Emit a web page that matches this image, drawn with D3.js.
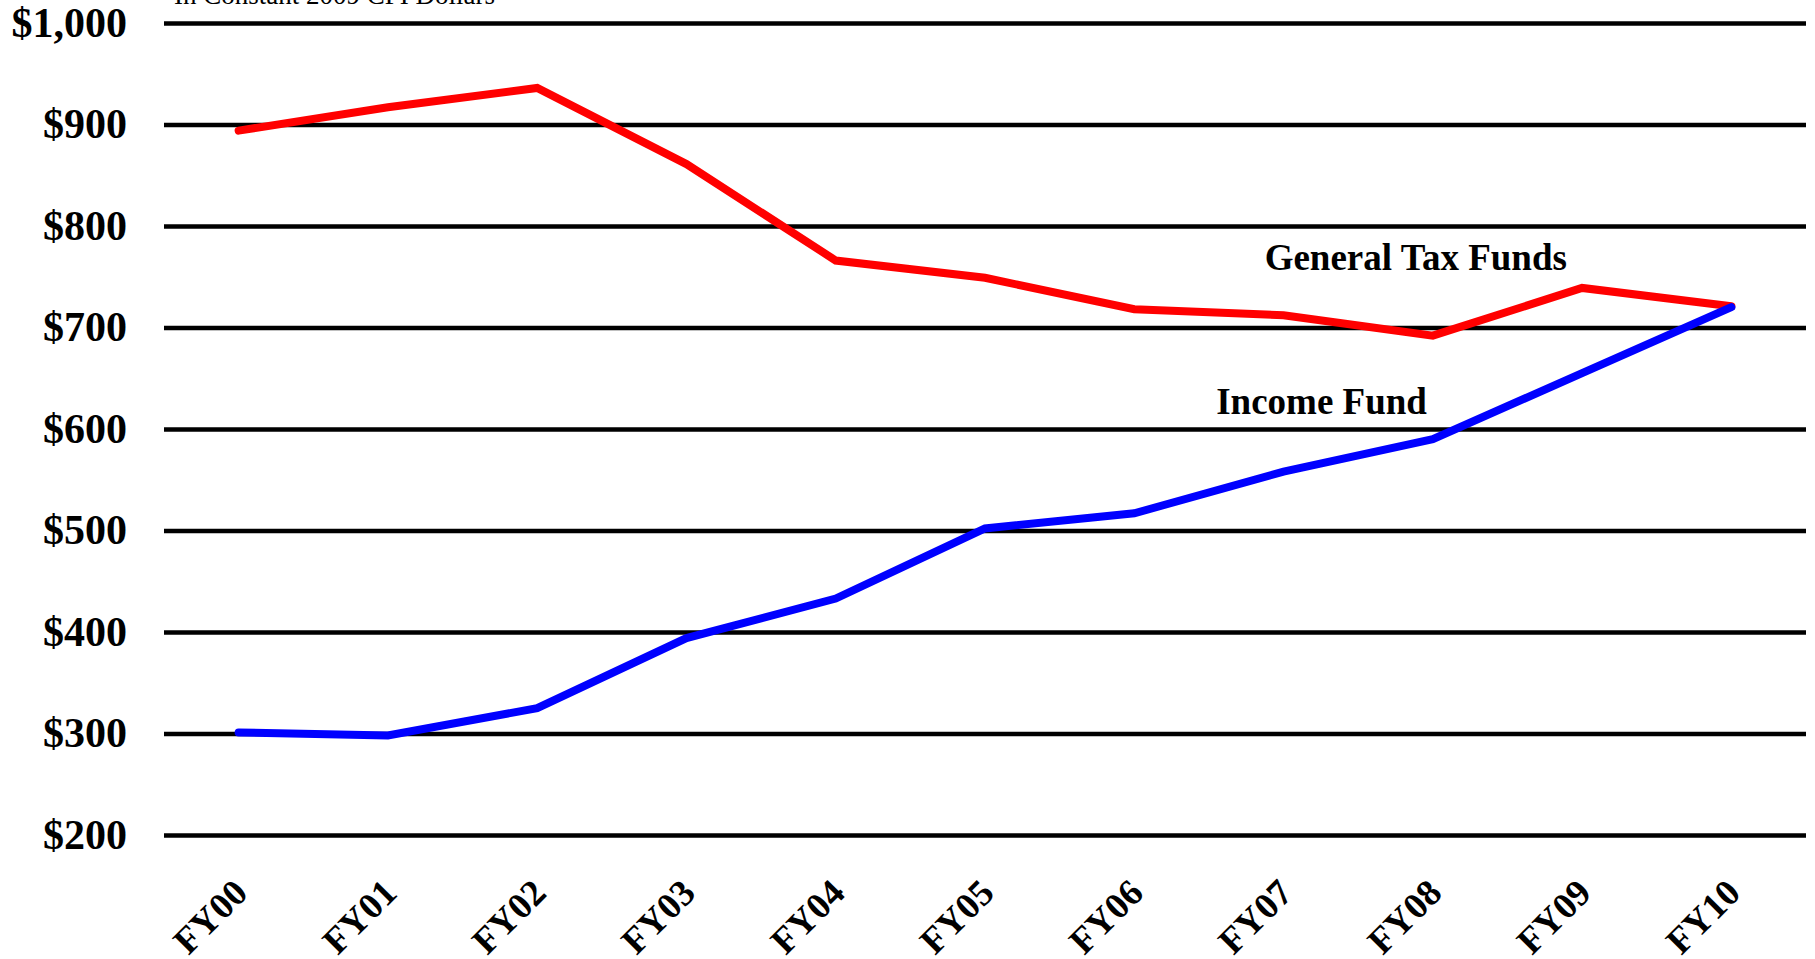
<!DOCTYPE html>
<meta charset="utf-8">
<style>

body {
  margin: 0;
  background: #fff;
}

text {
  font-family: "Liberation Serif", "Times New Roman", serif;
  fill: #000;
}

.axis--y path,
.axis--x path {
  display: none;
}

.axis--y .tick line {
  stroke: #000;
  stroke-width: 4.5;
}

.axis--y .tick text {
  font-size: 42px;
  font-weight: bold;
}

.axis--x .tick line {
  display: none;
}

.axis--x .tick text {
  font-size: 37px;
  font-weight: bold;
}

.line {
  fill: none;
  stroke-width: 8;
  stroke-linecap: round;
}

.subtitle {
  font-size: 27px;
}

.series-label {
  font-size: 37px;
  font-weight: bold;
}

</style>
<svg width="1815" height="959"></svg>
<script src="https://d3js.org/d3.v7.min.js"></script>
<script>

var years = ["FY00", "FY01", "FY02", "FY03", "FY04", "FY05", "FY06", "FY07", "FY08", "FY09", "FY10"];
var generalTax = [894, 917, 936, 861, 766, 749, 718, 712, 692, 739, 721];
var incomeFund = [301, 298, 325, 394, 433, 502, 517, 558, 590, 655, 720];
var yTicks = [200, 300, 400, 500, 600, 700, 800, 900, 1000];

var svg = d3.select("svg"),
    margin = {top: 23, right: 9, bottom: 124, left: 164},
    width = +svg.attr("width") - margin.left - margin.right,
    height = +svg.attr("height") - margin.top - margin.bottom;

var x = d3.scaleBand().domain(years).range([0, width]),
    y = d3.scaleLinear().domain([200, 1000]).range([height, 0]);

var g = svg.append("g")
    .attr("transform", "translate(" + margin.left + "," + margin.top + ")");

var money = d3.format("$,");

// gridlines + y labels
g.append("g")
    .attr("class", "axis axis--y")
    .call(d3.axisLeft(y).tickValues(yTicks).tickSize(-width).tickPadding(37).tickFormat(money));

// rotated year labels
g.append("g")
    .attr("class", "axis axis--x")
    .attr("transform", "translate(0," + height + ")")
    .call(d3.axisBottom(x).tickSize(0))
  .selectAll(".tick text")
    .attr("text-anchor", "end")
    .attr("dy", 0)
    .attr("y", 0)
    .attr("transform", "translate(11,60) rotate(-45)");

var line = d3.line()
    .x(function(d, i) { return x(years[i]) + x.bandwidth() / 2; })
    .y(function(d) { return y(d); });

g.append("path")
    .datum(generalTax)
    .attr("class", "line")
    .attr("stroke", "#ff0000")
    .attr("d", line);

g.append("path")
    .datum(incomeFund)
    .attr("class", "line")
    .attr("stroke", "#0000ff")
    .attr("d", line);

svg.append("text")
    .attr("class", "subtitle")
    .attr("x", 174)
    .attr("y", 4)
    .text("In Constant 2009 CPI Dollars");

g.append("text")
    .attr("class", "series-label")
    .attr("x", x("FY08") + x.bandwidth() / 2 - 17)
    .attr("y", y(757))
    .attr("text-anchor", "middle")
    .text("General Tax Funds");

g.append("text")
    .attr("class", "series-label")
    .attr("x", x("FY07") + x.bandwidth() / 2 + 38)
    .attr("y", y(615))
    .attr("text-anchor", "middle")
    .text("Income Fund");

</script>
